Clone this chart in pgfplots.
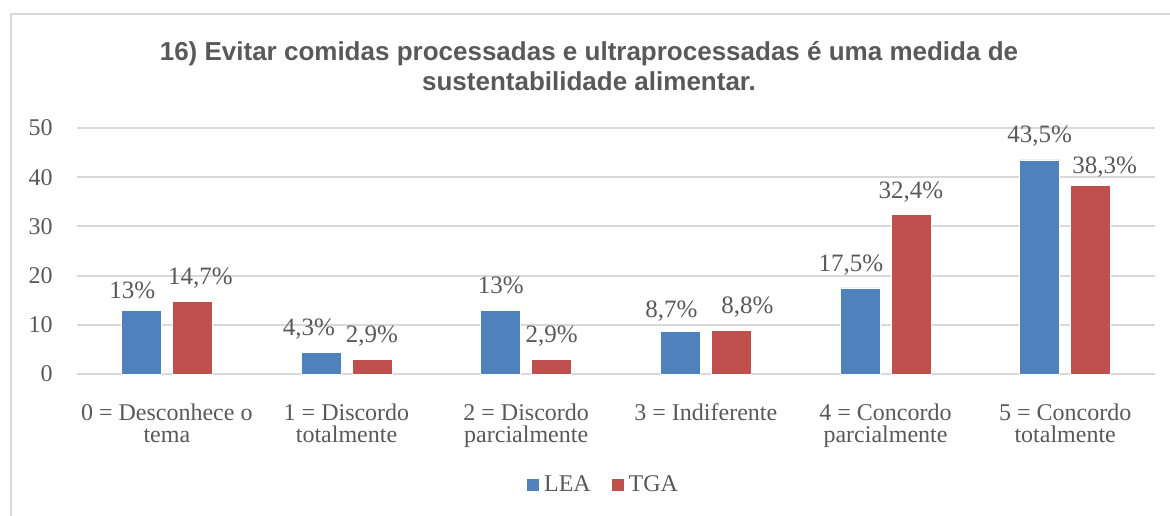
\documentclass[border=0pt]{standalone}
\usepackage{pgfplots}
\pgfplotsset{compat=1.18}
\usepackage{fontspec}
\setmainfont{Liberation Serif}
\newfontfamily\titlefont{Liberation Sans}
\definecolor{lea}{HTML}{4F81BD}
\definecolor{tga}{HTML}{C0504D}
\definecolor{txt}{HTML}{595959}
\definecolor{gridc}{HTML}{D9D9D9}
\begin{document}
\begin{tikzpicture}[x=1pt,y=1pt]
\useasboundingbox (-38.5,-70.5) rectangle (546.5,187);
\draw[gridc, line width=1pt] (-33,-71) -- (-33,180) -- (547,180);
\node[font=\titlefont\bfseries\fontsize{13}{15}\selectfont, text=txt, align=center] at (256,154) {16) Evitar comidas processadas e ultraprocessadas é uma medida de\\sustentabilidade alimentar.};
\begin{axis}[
  at={(0,0)}, anchor=south west,
  scale only axis, width=539pt, height=123pt,
  ybar=5.5pt, bar width=20pt,
  xmin=-0.5, xmax=5.5, ymin=0, ymax=50,
  ytick={0,10,20,30,40,50},
  xtick={0,1,2,3,4,5},
  xticklabels={{0 = Desconhece o\\tema},{1 = Discordo\\totalmente},{2 = Discordo\\parcialmente},{3 = Indiferente},{4 = Concordo\\parcialmente},{5 = Concordo\\totalmente}},
  xticklabel style={align=center, anchor=north, inner sep=0pt, yshift=-14.5pt, font=\fontsize{12}{11}\selectfont, text=txt},
  yticklabel style={anchor=east, inner sep=0pt, xshift=-12pt, font=\fontsize{12}{14}\selectfont, text=txt},
  /pgf/number format/assume math mode=true,
  major tick length=0pt,
  axis line style={draw=none},
  ymajorgrids, grid style={gridc, line width=1pt},
  nodes near coords,
  visualization depends on={\thisrow{dx} \as \dx},
  visualization depends on={\thisrow{dy} \as \dy},
  every node near coord/.append style={font=\fontsize{12.5}{14}\selectfont, text=txt, anchor=base, inner sep=0pt, xshift=\dx pt, yshift=\dy pt},
  legend style={at={(0.489,-0.451)}, anchor=center, draw=none, fill=none, legend columns=2, font=\fontsize{12}{14}\selectfont, text=txt, /tikz/every even column/.append style={column sep=8pt}},
  legend image code/.code={\fill[#1] (0pt,-3.25pt) rectangle (6.5pt,3.25pt);},
]
\addplot[fill=lea, draw=white, line width=0.4pt, point meta=explicit symbolic] table[x=x, y=y, meta=lab] {
x y lab dx dy
0 13 13\% -4.5 5.85
1 4.3 4,3\% -6 8.8
2 13 13\% 0 8.35
3 8.7 8,7\% -4.5 7
4 17.5 17,5\% -4.5 8.35
5 43.5 43,5\% 0 8.7
};
\addplot[fill=tga, draw=white, line width=0.4pt, point meta=explicit symbolic] table[x=x, y=y, meta=lab] {
x y lab dx dy
0 14.7 14,7\% 4 8.35
1 2.9 2,9\% 0 8.8
2 2.9 2,9\% 0 8.8
3 8.8 8,8\% 8 8.7
4 32.4 32,4\% 0 8
5 38.3 38,3\% 7 5.85
};
\legend{LEA, TGA}
\end{axis}
\end{tikzpicture}
\end{document}
